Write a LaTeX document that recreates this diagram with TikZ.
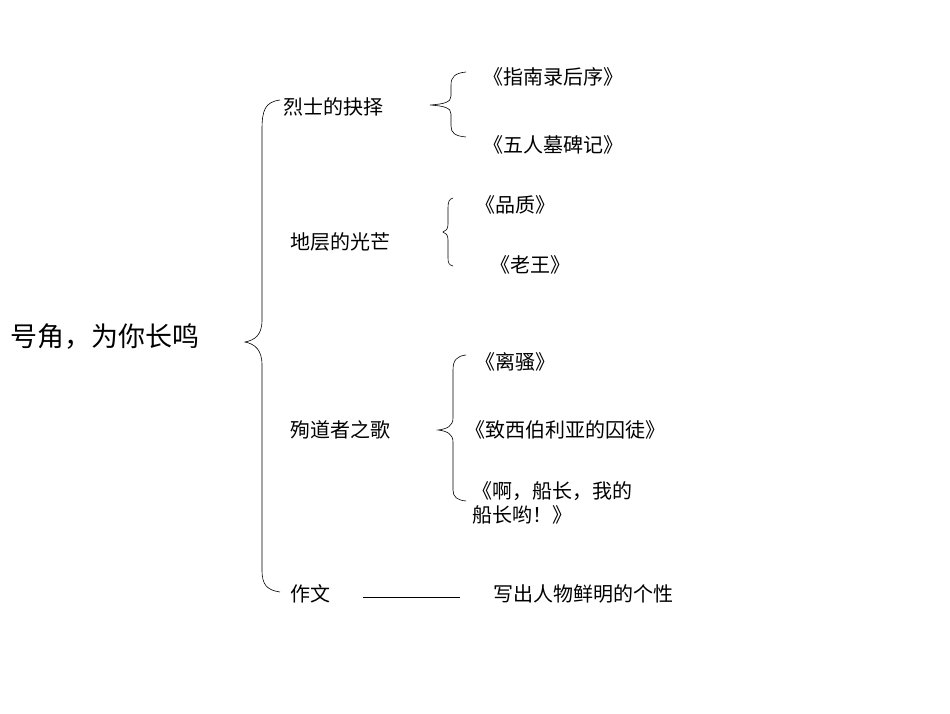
\documentclass[tikz,border=0pt]{standalone}
\usepackage{fontspec}
\setmainfont{Liberation Serif}
\newfontfamily\cjk{Noto Sans CJK SC}
\begin{document}
\begin{tikzpicture}[x=1pt,y=-1pt,
  lbl/.style={font=\cjk\fontsize{20}{24}\selectfont,anchor=west,inner sep=0pt},
  br/.style={draw,line width=0.6pt}]
\useasboundingbox (0,0) rectangle (950,713);
\node[lbl,font=\cjk\fontsize{27}{30}\selectfont] (root) at (10,337) {号角，为你长鸣};
\node[lbl] (a) at (283,107) {烈士的抉择};
\node[lbl] (b) at (290,242) {地层的光芒};
\node[lbl] (c) at (290,430) {殉道者之歌};
\node[lbl] (d) at (290,594) {作文};
\node[lbl] (a1) at (483,77) {《指南录后序》};
\node[lbl] (a2) at (483,145) {《五人墓碑记》};
\node[lbl] (b1) at (475,205) {《品质》};
\node[lbl] (b2) at (490,265) {《老王》};
\node[lbl] (c1) at (475,362) {《离骚》};
\node[lbl] (c2) at (465,430) {《致西伯利亚的囚徒》};
\node[lbl,align=left] (c3) at (472,503) {《啊，船长，我的\\ 船长哟！》};
\node[lbl] (d1) at (493,594) {写出人物鲜明的个性};
% big brace
\draw[br] (280,100) .. controls (265,102) and (262,110) .. (262,130) -- (262,320)
  .. controls (262,335) and (255,340) .. (245,342)
  .. controls (255,344) and (262,350) .. (262,365) -- (262,570)
  .. controls (262,585) and (267,590) .. (280,592);
% brace a
\draw[br] (466,72) .. controls (455,73) and (451,77) .. (451,85) -- (451,96)
  .. controls (451,102) and (445,104) .. (430,105)
  .. controls (445,106) and (451,108) .. (451,114) -- (451,126)
  .. controls (451,133) and (455,136) .. (466,137);
% brace b
\draw[br] (453,198) .. controls (449,199) and (448,202) .. (448,208) -- (448,224)
  .. controls (448,229) and (446,231) .. (443,232)
  .. controls (446,233) and (448,235) .. (448,240) -- (448,258)
  .. controls (448,263) and (449,265) .. (453,266);
% brace c
\draw[br] (466,355) .. controls (457,356) and (453,360) .. (453,370) -- (453,418)
  .. controls (453,426) and (447,429) .. (438,430)
  .. controls (447,431) and (453,434) .. (453,442) -- (453,490)
  .. controls (453,497) and (457,500) .. (466,501);
\draw[line width=0.6pt] (363,597) -- (460,597);
\end{tikzpicture}
\end{document}
